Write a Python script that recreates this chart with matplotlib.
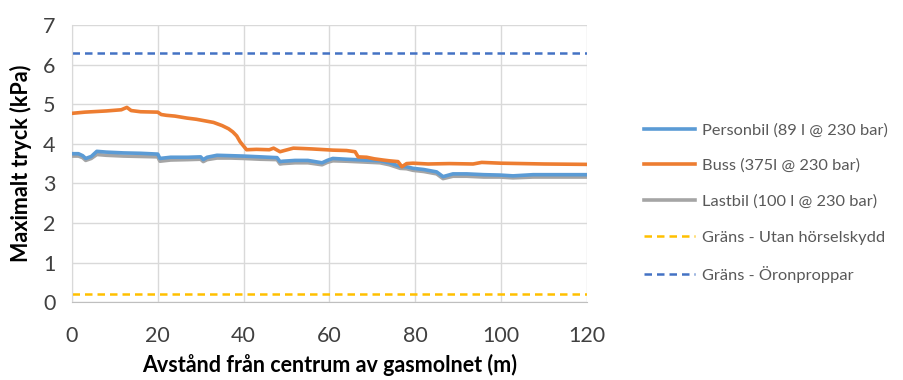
import numpy as np
import matplotlib.pyplot as plt

plt.rcParams['font.family'] = ['Lato', 'DejaVu Sans']

# avstånd (m) och maximalt tryck (kPa) för respektive fordon
x_person = [0, 1.5, 2.5, 3.2, 4.5, 5.8, 8, 12, 16, 20, 20.5, 23, 27, 30, 30.6, 31.5, 33.8, 37, 40, 44, 47.8,
            48.5, 49.2, 52, 55, 58.3, 59.5, 60.8, 64, 68, 71.8, 74, 76.5, 78, 79.5, 82, 85, 86.5, 88.8,
            92, 96, 99.8, 102.8, 107.5, 112, 120]
y_person = [3.75, 3.75, 3.70, 3.63, 3.68, 3.81, 3.79, 3.77, 3.76, 3.74, 3.63, 3.66, 3.66, 3.67, 3.60, 3.66,
            3.71, 3.70, 3.69, 3.67, 3.65, 3.55, 3.56, 3.58, 3.58, 3.52, 3.58, 3.63, 3.61, 3.59, 3.57, 3.52,
            3.43, 3.42, 3.38, 3.35, 3.29, 3.17, 3.24, 3.24, 3.22, 3.21, 3.19, 3.22, 3.22, 3.22]

x_buss = [0, 3, 8, 11.5, 12.8, 13.8, 16, 20, 20.8, 22, 24, 26.8, 29, 31, 33, 35, 36.5, 37.5, 38.4, 39.2, 40.7,
          43, 46, 47, 48.5, 49.5, 51.6, 54, 56, 60.8, 64, 66, 66.7, 68.7, 70.5, 72.5, 74, 76, 76.9, 78, 79.5,
          83, 88, 93.5, 95.5, 100, 110, 120]
y_buss = [4.77, 4.80, 4.83, 4.86, 4.92, 4.84, 4.81, 4.80, 4.74, 4.72, 4.70, 4.65, 4.62, 4.58, 4.54, 4.46, 4.38,
          4.30, 4.20, 4.05, 3.85, 3.86, 3.85, 3.89, 3.80, 3.83, 3.89, 3.88, 3.87, 3.84, 3.83, 3.80, 3.67, 3.66,
          3.62, 3.59, 3.57, 3.55, 3.42, 3.50, 3.51, 3.49, 3.50, 3.49, 3.53, 3.51, 3.49, 3.48]

x_last = [0, 1.5, 2.5, 3.2, 4.5, 5.8, 8, 12, 16, 20, 20.5, 23, 27, 30, 30.6, 31.5, 33.8, 37, 40, 44, 47.8,
          48.5, 49.2, 52, 55, 58.3, 59.5, 60.8, 64, 68, 71.8, 74, 76.5, 78, 79.5, 82, 85, 86.5, 88.8,
          92, 96, 99.8, 102.8, 107.5, 112, 120]
y_last = [3.69, 3.69, 3.65, 3.58, 3.63, 3.73, 3.71, 3.69, 3.68, 3.67, 3.56, 3.59, 3.60, 3.61, 3.55, 3.60,
          3.64, 3.64, 3.63, 3.61, 3.60, 3.49, 3.50, 3.52, 3.52, 3.47, 3.53, 3.57, 3.56, 3.54, 3.52, 3.47,
          3.38, 3.37, 3.33, 3.30, 3.24, 3.12, 3.18, 3.18, 3.16, 3.16, 3.14, 3.16, 3.16, 3.16]

grans_utan = 0.2      # kPa
grans_oronpropp = 6.3  # kPa

labels = ['Personbil (89 l @ 230 bar)', 'Buss (375l @ 230 bar)', 'Lastbil (100 l @ 230 bar)',
          'Gräns - Utan hörselskydd', 'Gräns - Öronproppar']

fig = plt.figure(figsize=(9.04, 3.8), dpi=100)
ax = fig.add_axes([0.0796, 0.205, 0.5695, 0.729])

ax.plot(x_person, y_person, color='#5B9BD5', lw=2.6, label=labels[0], zorder=4)
ax.plot(x_buss, y_buss, color='#ED7D31', lw=2.6, label=labels[1], zorder=4)
ax.plot(x_last, y_last, color='#A5A5A5', lw=2.6, label=labels[2], zorder=3)
ax.plot([0, 120], [grans_utan, grans_utan], color='#FFC000', lw=1.8, ls=(0, (3, 2)), label=labels[3])
ax.plot([0, 120], [grans_oronpropp, grans_oronpropp], color='#4472C4', lw=1.8, ls=(0, (3, 2)), label=labels[4])

ax.set_xlim(0, 120)
ax.set_ylim(0, 7)
ax.set_xticks(np.arange(0, 121, 20))
ax.set_yticks(np.arange(0, 8, 1))
ax.grid(True, color='#D9D9D9', lw=1.0)
ax.set_axisbelow(True)
for s in ['top', 'right']:
    ax.spines[s].set_visible(False)
ax.spines['left'].set_color('#D9D9D9')
ax.spines['bottom'].set_color('#BFBFBF')
ax.tick_params(length=0, labelsize=15.5, colors='#404040', pad=17)
ax.tick_params(axis='y', pad=12)

ax.set_xlabel('Avstånd från centrum av gasmolnet (m)', fontsize=15.5, fontweight='bold', labelpad=6)
ax.set_ylabel('Maximalt tryck (kPa)', fontsize=15.5, fontweight='bold', labelpad=8)

leg = fig.legend(loc='center left', bbox_to_anchor=(0.696, 0.466), frameon=False, fontsize=11.8,
                 handlelength=3.1, handletextpad=0.45, labelspacing=1.3)
for t in leg.get_texts():
    t.set_color('#595959')

fig.savefig('out.png', dpi=100)
